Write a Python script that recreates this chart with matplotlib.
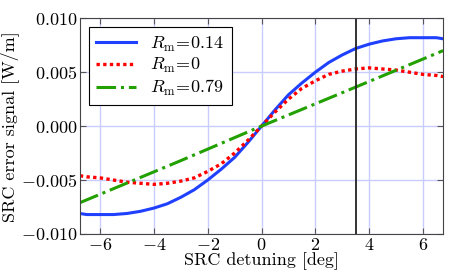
import matplotlib
matplotlib.use('Agg')
import matplotlib.pyplot as plt

plt.rcParams['font.family'] = 'serif'
plt.rcParams['font.serif'] = ['cmr10']
plt.rcParams['mathtext.fontset'] = 'cm'
plt.rcParams['axes.formatter.use_mathtext'] = True

# detuning [deg]
det = [-6.75, -6.5, -6.0, -5.5, -5.0, -4.5, -4.0, -3.5, -3.0, -2.5, -2.0, -1.5, -1.0, -0.5,
       0.0, 0.5, 1.0, 1.5, 2.0, 2.5, 3.0, 3.5, 4.0, 4.5, 5.0, 5.5, 6.0, 6.5, 6.75]

# Rm = 0.14
sig_014 = [-0.0081, -0.0082, -0.0082, -0.0082, -0.0081, -0.0079, -0.0076, -0.0072, -0.0066, -0.0059,
           -0.0050, -0.0040, -0.0029, -0.0015,
           0.0, 0.0015, 0.0029, 0.0040, 0.0050, 0.0059, 0.0066, 0.0072, 0.0076, 0.0079,
           0.0081, 0.0082, 0.0082, 0.0082, 0.0081]

# Rm = 0
sig_0 = [-0.0046, -0.0047, -0.0048, -0.0050, -0.0052, -0.0053, -0.0054, -0.0053, -0.0051, -0.0048,
         -0.0042, -0.0035, -0.0025, -0.0013,
         0.0, 0.0013, 0.0025, 0.0035, 0.0042, 0.0048, 0.0051, 0.0053, 0.0054, 0.0053,
         0.0052, 0.0050, 0.0048, 0.0047, 0.0046]

# Rm = 0.79
det_079 = [-6.75, -3.0, 0.0, 3.0, 6.75]
sig_079 = [-0.0071, -0.0032, 0.0, 0.0031, 0.0070]

op_point = 3.5

fig = plt.figure(figsize=(4.54, 2.73), dpi=100)
ax = fig.add_axes([0.176, 0.143, 0.800, 0.790])

ax.plot(det, sig_014, color='#2040ff', lw=2.2, label=r'$R_\mathrm{m}\!=\!0.14$')
ax.plot(det, sig_0, color='r', lw=2.4, ls=(0, (1, 1)), label=r'$R_\mathrm{m}\!=\!0$')
ax.plot(det_079, sig_079, color='#22a000', lw=2.2, ls='-.', label=r'$R_\mathrm{m}\!=\!0.79$')
ax.axvline(op_point, color='#222222', lw=1.3)

ax.set_xlim(-6.75, 6.75)
ax.set_ylim(-0.010, 0.010)
ax.set_xticks([-6, -4, -2, 0, 2, 4, 6])
ax.set_yticks([-0.010, -0.005, 0.0, 0.005, 0.010])
ax.set_yticklabels(['$-0.010$', '$-0.005$', '$0.000$', '$0.005$', '$0.010$'])
ax.set_xticklabels(['$-6$', '$-4$', '$-2$', '$0$', '$2$', '$4$', '$6$'])
ax.tick_params(direction='in', top=True, right=True, labelsize=13, length=4,
               color='#555555', pad=2)
ax.grid(True, color='#c8ccff', lw=1.0)
ax.set_axisbelow(True)
for s in ax.spines.values():
    s.set_color('#444444')

ax.set_xlabel('SRC detuning [deg]', fontsize=13, labelpad=0)
ax.set_ylabel('SRC error signal [W/m]', fontsize=13, labelpad=1)

leg = ax.legend(loc='upper left', fontsize=13, fancybox=False, edgecolor='black',
                framealpha=1, handlelength=2.2, borderpad=0.4, labelspacing=0.15,
                borderaxespad=0.5)
leg.get_frame().set_linewidth(0.8)

plt.savefig('out.png', dpi=100)
